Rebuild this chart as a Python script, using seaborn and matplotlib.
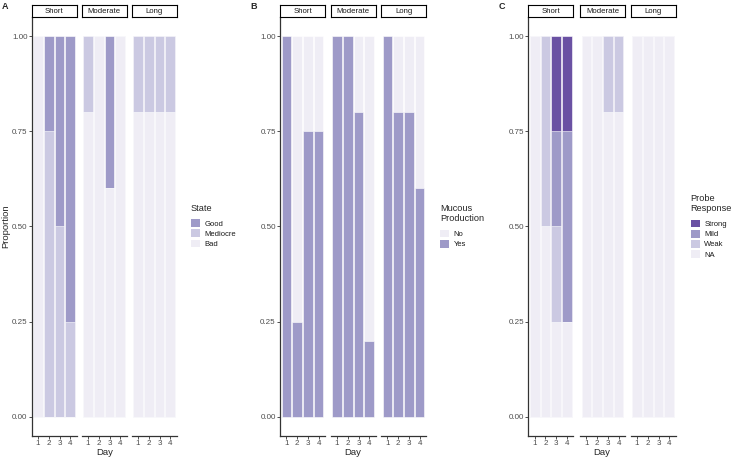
import numpy as np
import pandas as pd
import matplotlib
matplotlib.use("Agg")
import matplotlib.pyplot as plt
from matplotlib.patches import Patch
import seaborn as sns

# Daten: Reihenfolge je Liste = Short Tag 1-4, Moderate Tag 1-4, Long Tag 1-4
days = ["1", "2", "3", "4"]
durations = ["Short", "Moderate", "Long"]

state_levels = ["Good", "Mediocre", "Bad"]
state_good = [0.00, 0.25, 0.50, 0.75, 0.00, 0.00, 0.40, 0.00, 0.00, 0.00, 0.00, 0.00]
state_mediocre = [0.00, 0.75, 0.50, 0.25, 0.20, 0.00, 0.00, 0.00, 0.20, 0.20, 0.20, 0.20]
state_bad = [1.00, 0.00, 0.00, 0.00, 0.80, 1.00, 0.60, 1.00, 0.80, 0.80, 0.80, 0.80]

mucous_levels = ["No", "Yes"]
mucous_no = [0.00, 0.75, 0.25, 0.25, 0.00, 0.00, 0.20, 0.80, 0.00, 0.20, 0.20, 0.40]
mucous_yes = [1.00, 0.25, 0.75, 0.75, 1.00, 1.00, 0.80, 0.20, 1.00, 0.80, 0.80, 0.60]

probe_levels = ["Strong", "Mild", "Weak", "NA"]
probe_strong = [0.00, 0.00, 0.25, 0.25, 0.00, 0.00, 0.00, 0.00, 0.00, 0.00, 0.00, 0.00]
probe_mild = [0.00, 0.00, 0.25, 0.50, 0.00, 0.00, 0.00, 0.00, 0.00, 0.00, 0.00, 0.00]
probe_weak = [0.00, 0.50, 0.25, 0.00, 0.00, 0.00, 0.20, 0.20, 0.00, 0.00, 0.00, 0.00]
probe_na = [1.00, 0.50, 0.25, 0.25, 1.00, 1.00, 0.80, 0.80, 1.00, 1.00, 1.00, 1.00]

# Farben (Purples)
state_colors = {"Good": "#9e9ac8", "Mediocre": "#cbc9e2", "Bad": "#efedf5"}
mucous_colors = {"No": "#efedf5", "Yes": "#9e9ac8"}
probe_colors = {"Strong": "#6a51a3", "Mild": "#9e9ac8", "Weak": "#cbc9e2", "NA": "#efedf5"}

sns.set_style("ticks")
plt.rcParams['font.family'] = ['Liberation Sans', 'DejaVu Sans']

W, H = 733, 459
fig = plt.figure(figsize=(W / 100, H / 100), dpi=100)


def px(x, y, w, h):
    return [x / W, 1 - (y + h) / H, w / W, h / H]


def make_long(levels, values):
    df = pd.DataFrame({"duration": np.repeat(durations, 4), "day": days * 3})
    for lvl, v in zip(levels, values):
        df[lvl] = v
    # kumulierte Höhe: Stufe plus alle darunter liegenden
    cum = df[levels[::-1]].cumsum(axis=1)
    long = []
    for lvl in levels:
        part = df[["duration", "day"]].copy()
        part["level"] = lvl
        part["top"] = cum[lvl]
        long.append(part)
    return pd.concat(long, ignore_index=True)


def draw_panel(letter, levels, values, colors, lefts, title, leg_xy, letter_x, ylabel=None):
    data = make_long(levels, values)
    top, bottom = 17, 435.7
    for i, dur in enumerate(durations):
        x0 = lefts[i]
        ax = fig.add_axes(px(x0, top, 45, bottom - top))
        sub = data[data["duration"] == dur]
        sns.barplot(data=sub, x="day", y="top", hue="level", hue_order=levels,
                    order=days, palette=colors, dodge=False, width=0.9,
                    saturation=1, errorbar=None, edgecolor="white", linewidth=0.4,
                    legend=False, ax=ax)
        ax.set_xlim(-0.6, 3.6)
        ax.set_ylim(-0.05, 1.05)
        ax.set_xlabel("")
        ax.set_ylabel("")
        sns.despine(ax=ax, left=(i > 0))
        for s in ["left", "bottom"]:
            ax.spines[s].set_color("#333333")
            ax.spines[s].set_linewidth(0.9)
        ax.tick_params(length=2, width=0.6, color="#333333", labelsize=5.8,
                       labelcolor="#4d4d4d", pad=1)
        if i == 0:
            ax.set_yticks([0, 0.25, 0.5, 0.75, 1.0])
            ax.set_yticklabels(["0.00", "0.25", "0.50", "0.75", "1.00"])
        else:
            ax.set_yticks([])
        # Streifen mit Facettenname
        sax = fig.add_axes(px(x0, 4.5, 45, 12))
        sax.set_xticks([])
        sax.set_yticks([])
        for s in sax.spines.values():
            s.set_color("black")
            s.set_linewidth(0.8)
            s.set_visible(True)
        sax.text(0.5, 0.45, dur, ha="center", va="center", fontsize=5.6, color="#1a1a1a")
    mid = (lefts[0] + lefts[2] + 45) / 2
    fig.text(mid / W, 1 - 452.5 / H, "Day", ha="center", va="center", fontsize=6.8)
    fig.text(letter_x / W, 1 - 6.5 / H, letter, ha="left", va="center",
             fontsize=6.5, fontweight="bold")
    if ylabel:
        fig.text(5.5 / W, 1 - 226 / H, ylabel, rotation=90, ha="center",
                 va="center", fontsize=6.8)
    handles = [Patch(facecolor=colors[l], edgecolor="none") for l in levels]
    leg = fig.legend(handles, levels, title=title, loc="upper left",
                     bbox_to_anchor=(leg_xy[0] / W, 1 - leg_xy[1] / H),
                     frameon=False, fontsize=5.5, title_fontsize=6.6,
                     handlelength=1.2, handleheight=1.2, handletextpad=0.6,
                     labelspacing=0.22, borderpad=0, borderaxespad=0,
                     alignment="left")
    leg._legend_box.sep = 4.5
    for t in leg.get_texts():
        t.set_color("#1a1a1a")


draw_panel("A", state_levels, [state_good, state_mediocre, state_bad], state_colors,
           [31.7, 81.7, 131.7], "State", (190.5, 204), 2, ylabel="Proportion")
draw_panel("B", mucous_levels, [mucous_no, mucous_yes], mucous_colors,
           [280, 330.7, 381], "Mucous\nProduction", (440, 204), 250)
draw_panel("C", probe_levels, [probe_strong, probe_mild, probe_weak, probe_na], probe_colors,
           [528.3, 580, 630.7], "Probe\nResponse", (690.5, 194), 499)

fig.savefig("out.png", dpi=100)
